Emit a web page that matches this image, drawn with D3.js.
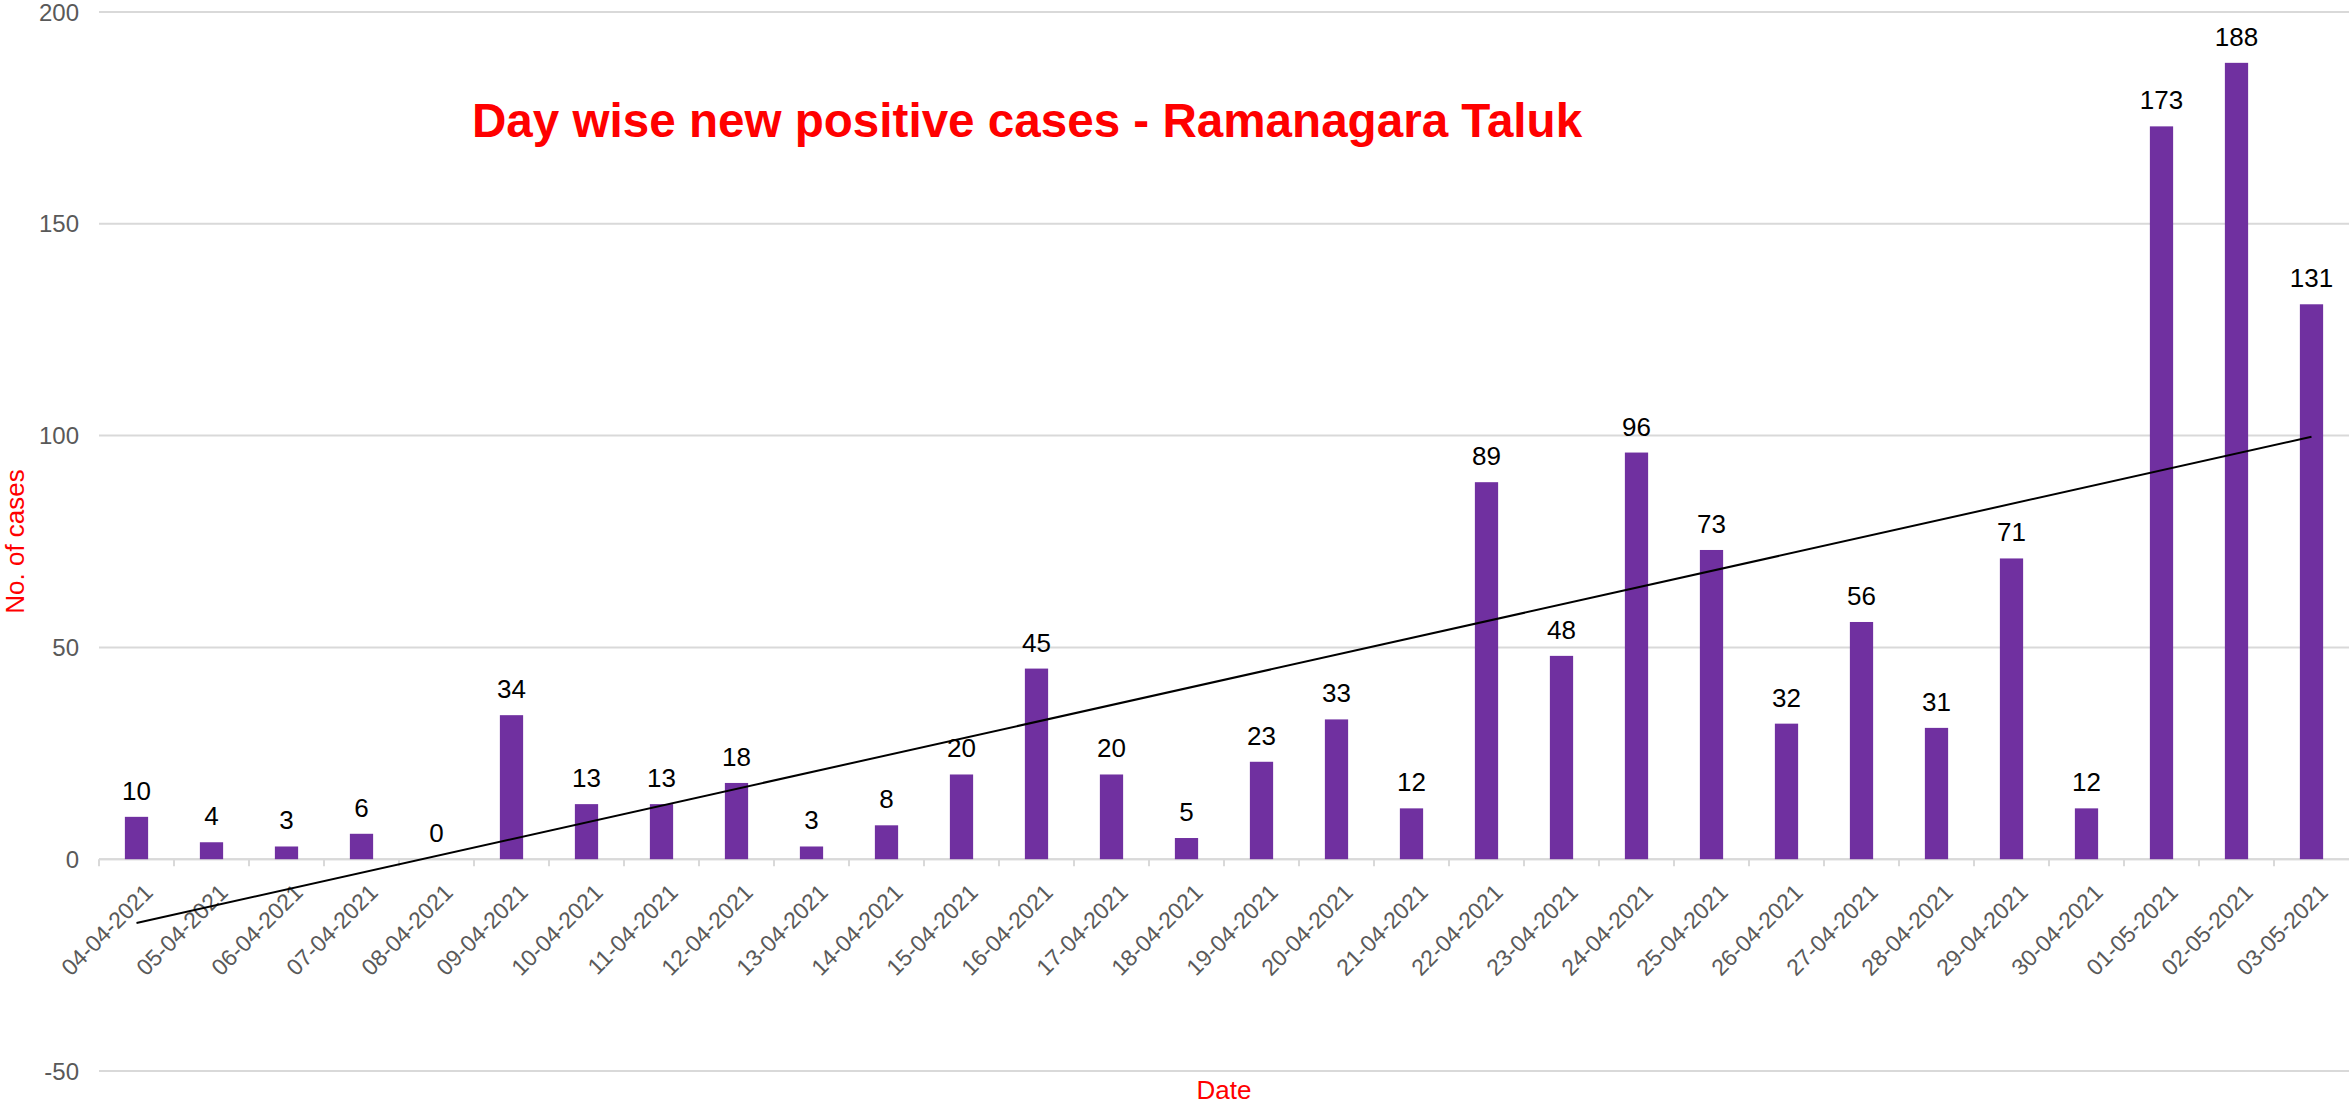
<!DOCTYPE html>
<html>
<head>
<meta charset="utf-8">
<script src="https://cdn.jsdelivr.net/npm/d3@7"></script>
<style>
  html, body { margin: 0; padding: 0; background: #fff; }
  svg { display: block; font-family: "Liberation Sans", Arial, sans-serif; }
</style>
</head>
<body>
<div id="chart"></div>
<script>
const dates = [
  "04-04-2021", "05-04-2021", "06-04-2021", "07-04-2021", "08-04-2021",
  "09-04-2021", "10-04-2021", "11-04-2021", "12-04-2021", "13-04-2021",
  "14-04-2021", "15-04-2021", "16-04-2021", "17-04-2021", "18-04-2021",
  "19-04-2021", "20-04-2021", "21-04-2021", "22-04-2021", "23-04-2021",
  "24-04-2021", "25-04-2021", "26-04-2021", "27-04-2021", "28-04-2021",
  "29-04-2021", "30-04-2021", "01-05-2021", "02-05-2021", "03-05-2021"
];
const cases = [
  10, 4, 3, 6, 0, 34, 13, 13, 18, 3,
  8, 20, 45, 20, 5, 23, 33, 12, 89, 48,
  96, 73, 32, 56, 31, 71, 12, 173, 188, 131
];
const yTicks = [-50, 0, 50, 100, 150, 200];

const width = 2349, height = 1106;
const margin = { top: 12, right: 0, bottom: 35, left: 99 };

const svg = d3.select("#chart").append("svg")
  .attr("width", width)
  .attr("height", height);

const x = d3.scaleBand()
  .domain(dates)
  .range([margin.left, width - margin.right])
  .padding(0);

const y = d3.scaleLinear()
  .domain([-50, 200])
  .range([height - margin.bottom, margin.top]);

const barW = x.step() * 0.31;

// gridlines
svg.append("g")
  .selectAll("line")
  .data(yTicks)
  .enter().append("line")
  .attr("x1", margin.left)
  .attr("x2", width - margin.right)
  .attr("y1", d => y(d))
  .attr("y2", d => y(d))
  .attr("stroke", "#d9d9d9")
  .attr("stroke-width", 2);

// y tick labels
svg.append("g")
  .selectAll("text")
  .data(yTicks)
  .enter().append("text")
  .attr("x", margin.left - 20)
  .attr("y", d => y(d))
  .attr("dy", "0.36em")
  .attr("text-anchor", "end")
  .style("font-size", "24px")
  .style("fill", "#595959")
  .text(d => d);

// horizontal axis at zero
svg.append("line")
  .attr("x1", margin.left)
  .attr("x2", width - margin.right)
  .attr("y1", y(0))
  .attr("y2", y(0))
  .attr("stroke", "#d9d9d9")
  .attr("stroke-width", 2);

// category boundary ticks
svg.append("g")
  .selectAll("line")
  .data(dates)
  .enter().append("line")
  .attr("x1", d => x(d))
  .attr("x2", d => x(d))
  .attr("y1", y(0))
  .attr("y2", y(0) + 7)
  .attr("stroke", "#d9d9d9")
  .attr("stroke-width", 2);

// rotated date labels
svg.append("g")
  .selectAll("text")
  .data(dates)
  .enter().append("text")
  .attr("text-anchor", "end")
  .attr("transform", d => "translate(" + (x(d) + x.bandwidth() / 2 + 6) + "," + (y(0) + 23) + ")rotate(-45)")
  .attr("dy", "0.72em")
  .style("font-size", "23px")
  .style("fill", "#595959")
  .text(d => d);

// bars
svg.append("g")
  .selectAll("rect")
  .data(cases)
  .enter().append("rect")
  .attr("x", (d, i) => x(dates[i]) + (x.step() - barW) / 2)
  .attr("y", d => y(d))
  .attr("width", barW)
  .attr("height", d => y(0) - y(d))
  .attr("fill", "#7030a0");

// value labels
svg.append("g")
  .selectAll("text")
  .data(cases)
  .enter().append("text")
  .attr("x", (d, i) => x(dates[i]) + x.step() / 2)
  .attr("y", d => y(d) - 17)
  .attr("text-anchor", "middle")
  .style("font-size", "26px")
  .style("fill", "#000")
  .text(d => d);

// linear trendline (least squares over the series)
const n = cases.length;
const mx = d3.mean(cases, (d, i) => i);
const my = d3.mean(cases);
const slope = d3.sum(cases, (d, i) => (i - mx) * (d - my)) / d3.sum(cases, (d, i) => (i - mx) * (i - mx));
const icpt = my - slope * mx;

svg.append("line")
  .attr("x1", x(dates[0]) + x.step() / 2)
  .attr("y1", y(icpt))
  .attr("x2", x(dates[n - 1]) + x.step() / 2)
  .attr("y2", y(icpt + slope * (n - 1)))
  .attr("stroke", "#000")
  .attr("stroke-width", 2);

// titles
svg.append("text")
  .attr("x", 472)
  .attr("y", 137)
  .style("font-size", "47.6px")
  .style("font-weight", "bold")
  .style("fill", "#ff0000")
  .text("Day wise new positive cases - Ramanagara Taluk");

svg.append("text")
  .attr("transform", "translate(24," + ((margin.top + height - margin.bottom) / 2) + ")rotate(-90)")
  .attr("text-anchor", "middle")
  .style("font-size", "26px")
  .style("fill", "#ff0000")
  .text("No. of cases");

svg.append("text")
  .attr("x", (margin.left + width - margin.right) / 2)
  .attr("y", 1099)
  .attr("text-anchor", "middle")
  .style("font-size", "26px")
  .style("fill", "#ff0000")
  .text("Date");
</script>
</body>
</html>
